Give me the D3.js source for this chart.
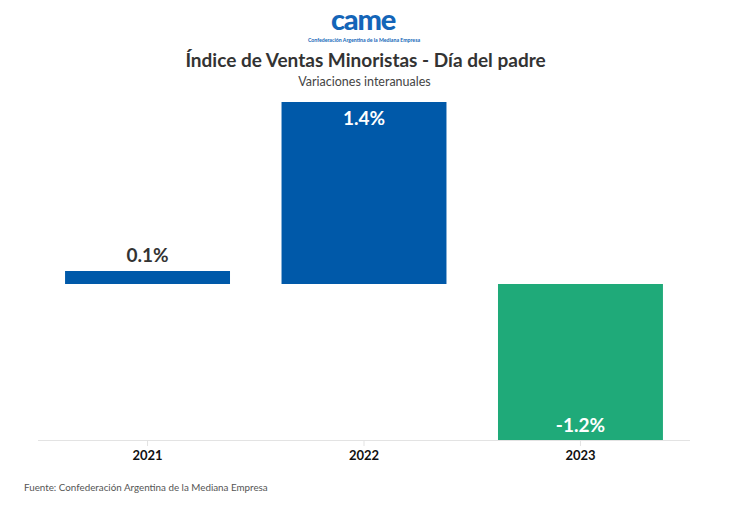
<!DOCTYPE html>
<html><head><meta charset="utf-8">
<script src="https://cdn.jsdelivr.net/npm/d3@7"></script>
<style>
body{margin:0;background:#fff;}
svg{display:block;font-family:"Source Sans Pro",Lato,"Noto Sans",sans-serif;}
</style></head>
<body>
<svg id="c" width="731" height="517"></svg>
<script>
const categories = ["2021", "2022", "2023"];
const values = [0.1, 1.4, -1.2];
const valueLabels = ["0.1%", "1.4%", "-1.2%"];
const title = "Índice de Ventas Minoristas - Día del padre";
const subtitle = "Variaciones interanuales";
const source = "Fuente: Confederación Argentina de la Mediana Empresa";

const svg = d3.select("#c");
const W = 731;
const blue = "#0059a9", green = "#1faa79";

// logo
const logo = svg.append("g");
logo.append("text").attr("x", 363).attr("y", 30).attr("text-anchor", "middle")
  .attr("font-family", "Lato, sans-serif").attr("font-weight", 900).attr("font-size", 29)
  .attr("letter-spacing", -1.2).attr("fill", "#1465b8").text("came");
logo.append("text").attr("x", 364).attr("y", 41.8).attr("text-anchor", "middle")
  .attr("font-size", 5.2).attr("font-weight", 700).attr("fill", "#1465b8")
  .text("Confederación Argentina de la Mediana Empresa");

svg.append("text").attr("x", W/2).attr("y", 67).attr("text-anchor", "middle")
  .attr("font-size", 19).attr("font-weight", 700).attr("fill", "#333").text(title);
svg.append("text").attr("x", W/2 - 1).attr("y", 86).attr("text-anchor", "middle")
  .attr("font-size", 12.5).attr("fill", "#444").text(subtitle);

const x = d3.scaleBand().domain(categories).range([38, 690])
  .paddingInner(0.238).paddingOuter(0.125);
const y = d3.scaleLinear().domain([-1.2, 1.4]).range([440, 102]);

const data = categories.map((c, i) => ({c, v: values[i], l: valueLabels[i]}));

// axis
const ax = svg.append("g").attr("transform", "translate(0,440)")
  .call(d3.axisBottom(x).tickSize(6).tickPadding(5));
ax.select(".domain").attr("stroke", "#e3e3e3").attr("d", "M38,0.5H690");
ax.selectAll(".tick line").attr("stroke", "#e3e3e3");
ax.selectAll(".tick text").attr("font-size", 13).attr("font-weight", 700)
  .attr("fill", "#111").attr("font-family", "'Source Sans Pro',Lato,sans-serif");

svg.selectAll("rect.bar").data(data).join("rect").attr("class", "bar")
  .attr("x", d => x(d.c)).attr("width", x.bandwidth())
  .attr("y", d => y(Math.max(0, d.v)))
  .attr("height", d => Math.abs(y(d.v) - y(0)))
  .attr("fill", d => d.v >= 0 ? blue : green);

svg.selectAll("text.lbl").data(data).join("text").attr("class", "lbl")
  .attr("x", d => x(d.c) + x.bandwidth()/2)
  .attr("y", d => {
    if (d.v < 0) return y(d.v) - 8;
    if (y(0) - y(d.v) > 40) return y(d.v) + 23;
    return y(d.v) - 9;
  })
  .attr("text-anchor", "middle").attr("font-size", 19).attr("font-weight", 700)
  .attr("fill", d => (d.v < 0 || y(0) - y(d.v) > 40) ? "#fff" : "#333")
  .text(d => d.l);

svg.append("text").attr("x", 24).attr("y", 491).attr("font-size", 9.8)
  .attr("fill", "#555").text(source);
</script>
</body></html>
